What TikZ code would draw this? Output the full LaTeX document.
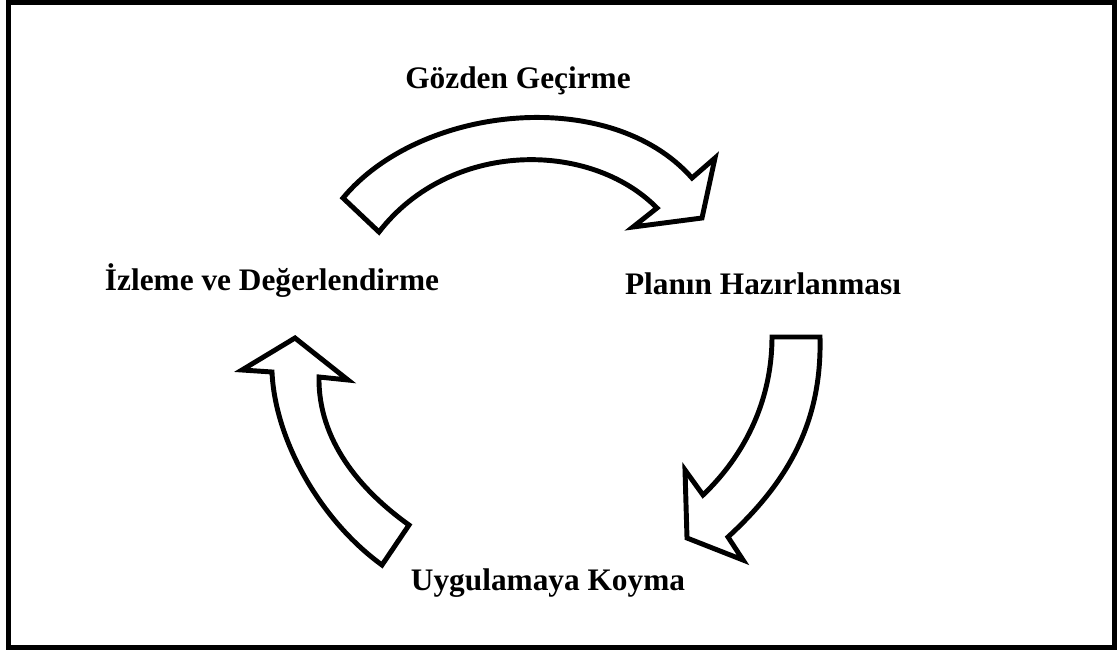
\documentclass[tikz,border=0pt]{standalone}
\usepackage{fontspec}
\setmainfont{Liberation Serif}
\usepackage{tikz}
\usetikzlibrary{positioning}
\tikzset{
	stage/.style={anchor=base,font=\fontsize{23.5}{28}\selectfont\bfseries,inner sep=0pt},
	cyclearrow/.style={draw,fill=white,line width=3.7pt,line join=miter},
	frame/.style={draw,line width=3.75pt}
}

\begin{document}
\begin{tikzpicture}[x=0.75pt,y=-0.75pt]
			\useasboundingbox (0,0) rectangle (1118,653);
			\draw[frame] (8.5,2) rectangle (1114,647.5);
			\node[stage] (rev) at (518, 88) {Gözden Geçirme};
			\node[stage] (mon) at (272, 290) {İzleme ve Değerlendirme};
			\node[stage] (plan) at (763, 294) {Planın Hazırlanması};
			\node[stage] (impl) at (548, 590) {Uygulamaya Koyma};
			\draw[cyclearrow] (343,198) .. controls (420,105) and (610,85) .. (692,178) -- (715,158) -- (702,218) -- (633,227) -- (657,208) .. controls (590,140) and (450,140) .. (379,232) -- cycle;
			\draw[cyclearrow] (772,337) -- (820,337) .. controls (822,420) and (790,480) .. (728,537) -- (743,560) -- (687,538) -- (685,470) -- (703,495) .. controls (745,455) and (772,400) .. (772,337) -- cycle;
			\draw[cyclearrow] (295,338) -- (348,380) -- (319,377) .. controls (318,440) and (360,490) .. (409,525) -- (382,565) .. controls (320,520) and (275,440) .. (272,372) -- (242,370) -- cycle;
		\end{tikzpicture}
\end{document}
